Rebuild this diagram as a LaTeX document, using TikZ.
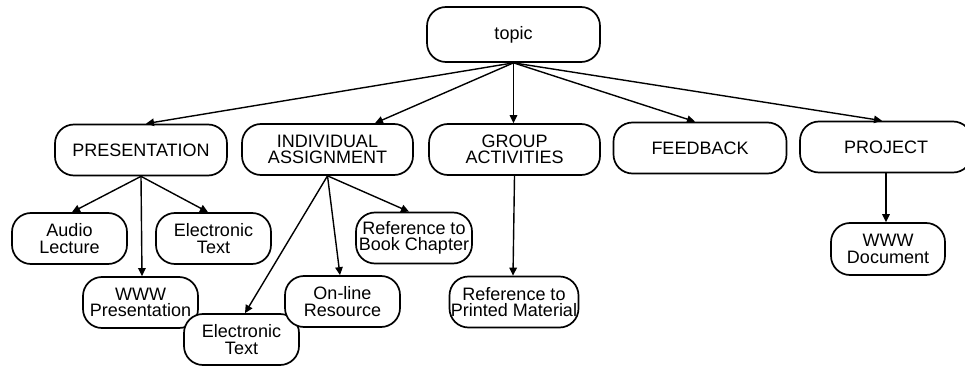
\documentclass[tikz,border=0pt]{standalone}
\usepackage{fontspec}
\setmainfont{Liberation Sans}
\usetikzlibrary{arrows.meta}
\begin{document}
\begin{tikzpicture}[x=1pt,y=-1pt,
  box/.style={draw=black, line width=1.7pt, fill=white, rounded corners=19pt,
    inner sep=0pt, align=center, font=\fontsize{18}{16.5}\selectfont,
    minimum height=51pt},
  big/.style={box, minimum width=172pt},
  small/.style={box, minimum width=115pt},
  link/.style={line width=1.4pt, -{Triangle[length=8pt,width=7.5pt]}}
]
\useasboundingbox (0,0) rectangle (965,366);
% level 1
\node[big, minimum width=173pt, minimum height=55pt] (topic) at (513.5,34.5) {topic};
% level 2
\node[big] (pres) at (141,150) {PRESENTATION};
\node[big, minimum width=171pt] (ind) at (327.5,149.5) {INDIVIDUAL\\ASSIGNMENT};
\node[big, minimum width=171pt] (group) at (514.5,149.5) {GROUP\\ACTIVITIES};
\node[big, minimum width=173pt] (feed) at (700,148) {FEEDBACK};
\node[big] (proj) at (886,147) {PROJECT};
% level 3
\node[small] (audio) at (69.5,238.5) {Audio\\Lecture};
\node[small] (elecA) at (213.5,238.5) {Electronic\\Text};
\node[small] (wwwp) at (140.5,302.5) {WWW\\Presentation};
\node[small] (elecB) at (241.5,339.5) {Electronic\\Text};
\node[small] (online) at (342.5,301.5) {On-line\\Resource};
\node[small, minimum width=116pt] (book) at (414,238) {Reference to\\Book Chapter};
\node[small, minimum width=129pt] (printed) at (514,302) {Reference to\\Printed Material};
\node[small, minimum width=114pt, minimum height=52pt] (wwwdoc) at (888,249) {WWW\\Document};
% connectors
\draw[link] (topic.south) -- ([xshift=5pt]pres.north);
\draw[link] (topic.south) -- ([xshift=47.5pt]ind.north);
\draw[link] (topic.south) -- ([xshift=-1pt]group.north);
\draw[link] (topic.south) -- ([xshift=-5pt]feed.north);
\draw[link] (topic.south) -- ([xshift=-4pt]proj.north);
\draw[link] (pres.south) -- ([xshift=2.5pt]audio.north);
\draw[link] (pres.south) -- ([xshift=1.5pt]wwwp.north);
\draw[link] (pres.south) -- ([xshift=-5.5pt]elecA.north);
\draw[link] (ind.south) -- ([xshift=3.5pt]elecB.north);
\draw[link] (ind.south) -- ([xshift=-2.5pt]online.north);
\draw[link] (ind.south) -- ([xshift=-5pt]book.north);
\draw[link] (group.south) -- ([xshift=-1pt]printed.north);
\draw[link] (proj.south) -- ([xshift=-2pt]wwwdoc.north);
\end{tikzpicture}
\end{document}
